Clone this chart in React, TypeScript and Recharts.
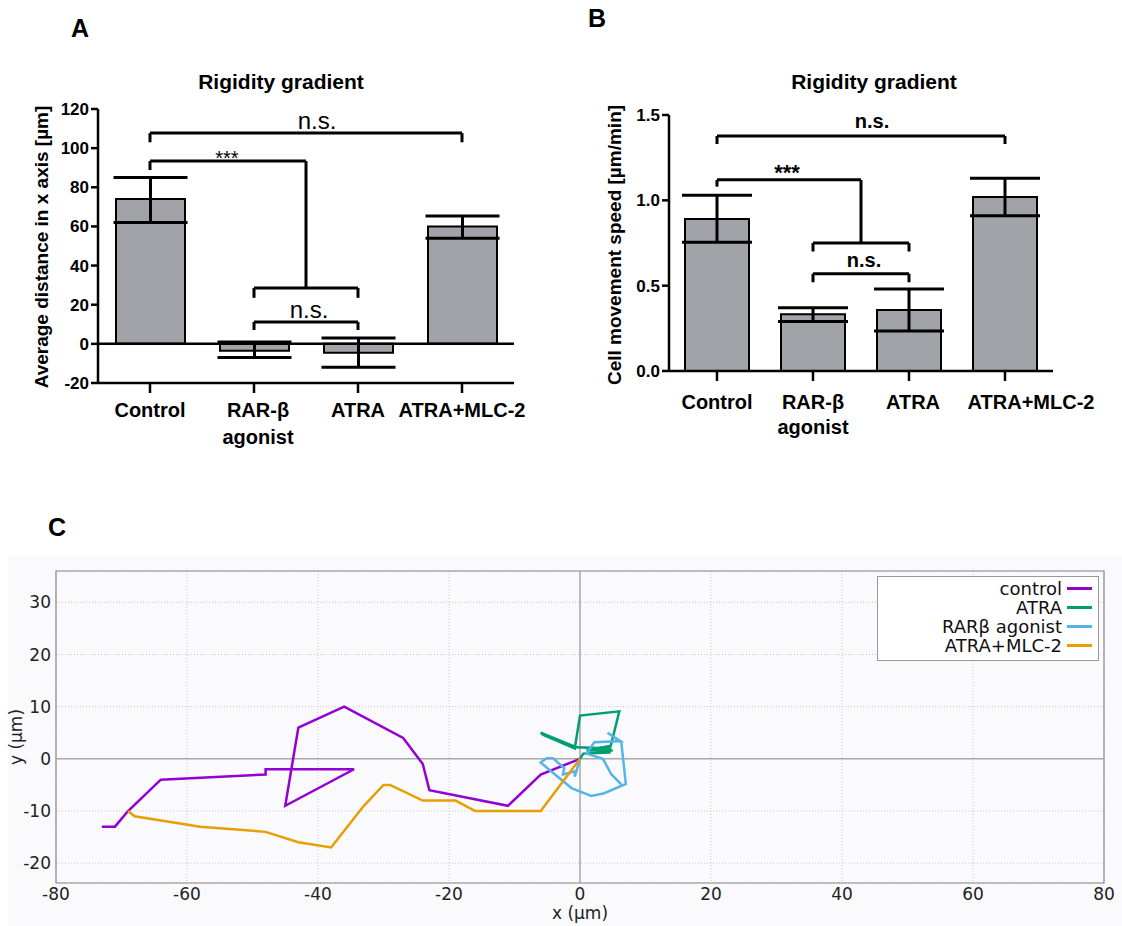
import React from 'react';
import {
  BarChart, Bar, XAxis, YAxis, ErrorBar, ReferenceLine, ReferenceDot,
  LineChart, Line, CartesianGrid, ReferenceArea, Legend,
} from 'recharts';

// ---------- data ----------
const categories = ['Control', 'RAR-β\nagonist', 'ATRA', 'ATRA+MLC-2'];
const categoryIndex = [0, 1, 2, 3];

const distanceMean = [74, -3.5, -4.5, 60];
const distanceLow = [62, -7, -12, 54];
const distanceHigh = [85, 1, 3, 65.3];
const distanceTicks = [-20, 0, 20, 40, 60, 80, 100, 120];

const speedMean = [0.89, 0.333, 0.357, 1.02];
const speedLow = [0.755, 0.29, 0.235, 0.91];
const speedHigh = [1.03, 0.37, 0.48, 1.13];
const speedTicks = [0, 0.5, 1.0, 1.5];

// brackets: [x1, x2, y, leftEnd, rightEnd]
const bracketsA = [
  [0, 3, 107.7, 103, 103],
  [0, 1.5, 93.4, 88.8, 28.6],
  [1, 2, 28.6, 23.5, 23.5],
  [1, 2, 11.2, 7.1, 7.1],
];
// labels: [x, y, text, fontSize, weight]
const labelsA: [number, number, string, number, string][] = [
  [1.606, 114.1, 'n.s.', 24, 'normal'],
  [0.74, 95, '***', 20, 'normal'],
  [1.53, 17.5, 'n.s.', 24, 'normal'],
];
const bracketsB = [
  [0, 3, 1.377, 1.33, 1.33],
  [0, 1.5, 1.12, 1.08, 0.75],
  [1, 2, 0.75, 0.70, 0.70],
  [1, 2, 0.57, 0.52, 0.52],
];
const labelsB: [number, number, string, number, string][] = [
  [1.615, 1.4646, 'n.s.', 20, 'bold'],
  [0.729, 1.163, '***', 22, 'bold'],
  [1.531, 0.65, 'n.s.', 20, 'bold'],
];

// trajectories (x, y) in µm
const controlTrack: [number, number][] = [
  [0, 0], [-6, -3], [-11, -9], [-23, -6], [-24, -1], [-27, 4], [-36, 10], [-43, 6],
  [-45, -9], [-34.5, -2], [-48, -2], [-48, -3], [-64, -4], [-69, -10], [-71, -13], [-73, -13],
];
const atraTrack: [number, number][] = [
  [0, 0], [0.5, 1], [4.5, 1.2], [4.6, 2], [-0.5, 2.2], [-6, 5], [-5.6, 4.6], [-0.8, 2],
  [0, 8.3], [6, 9.1], [4.7, 2.5], [1, 1.6], [5, 1.6],
];
const rarTrack: [number, number][] = [
  [0, 0], [-0.8, -3.4], [-0.8, -2.4], [-2.6, -3.0], [-2.4, -1.8], [-4.1, 0.1], [-5.1, 0.1],
  [-6, -0.7], [-4, -2.8], [-1.3, -5.6], [1.7, -7.1], [3.7, -6.6], [7, -4.8], [6.3, 3.2],
  [4.2, 5], [6.2, 3.4], [2.2, 3.2], [1, 1], [3.5, 0], [4.8, -3], [6.3, -4.9],
];
const mlcTrack: [number, number][] = [
  [0, 0], [-6, -10], [-16, -10], [-19, -8], [-24, -8], [-29, -5], [-30, -5], [-33, -9],
  [-38, -17], [-43, -16], [-48, -14], [-58, -13], [-68, -11], [-69, -10],
];
const trackNames = ['control', 'ATRA', 'RARβ agonist', 'ATRA+MLC-2'];
const trackColors = ['#9400d3', '#009e73', '#56b4e9', '#e69f00'];
const xTicksC = [-80, -60, -40, -20, 0, 20, 40, 60, 80];
const yTicksC = [-20, -10, 0, 10, 20, 30];

// ---------- derived tables ----------
const tableA = categoryIndex.map((i) => ({
  idx: i,
  value: distanceMean[i],
  err: [distanceMean[i] - distanceLow[i], distanceHigh[i] - distanceMean[i]],
}));
const tableB = categoryIndex.map((i) => ({
  idx: i,
  value: speedMean[i],
  err: [speedMean[i] - speedLow[i], speedHigh[i] - speedMean[i]],
}));
const toPts = (t: [number, number][]) => t.map(([x, y]) => ({ x, y }));
const tracks = [controlTrack, atraTrack, rarTrack, mlcTrack].map(toPts);

const SANS = '"Liberation Sans", Arial, sans-serif';
const DJV = '"DejaVu Sans", sans-serif';

const makeCatTick = (dy1: number, dy2: number, fs: number, shifts: number[]) => (props: any) => {
  const { x, y, payload } = props;
  const lines = categories[payload.value].split('\n');
  const cx = x + (shifts[payload.value] || 0);
  return (
    <text x={cx} y={y} textAnchor="middle" fontSize={fs} fontWeight="bold" fill="#000" fontFamily={SANS}>
      {lines.map((l, i) => (
        <tspan key={i} x={cx} dy={i === 0 ? dy1 : dy2}>{l}</tspan>
      ))}
    </text>
  );
};

const renderBrackets = (list: number[][], prefix: string) =>
  list.flatMap(([x1, x2, y, l, r], k) => [
    <ReferenceLine key={`${prefix}h${k}`} segment={[{ x: x1, y }, { x: x2, y }]} stroke="#000" strokeWidth={3} />,
    <ReferenceLine key={`${prefix}l${k}`} segment={[{ x: x1, y: y }, { x: x1, y: l }]} stroke="#000" strokeWidth={3} />,
    <ReferenceLine key={`${prefix}r${k}`} segment={[{ x: x2, y: y }, { x: x2, y: r }]} stroke="#000" strokeWidth={3} />,
  ]);

const renderLabels = (list: [number, number, string, number, string][], prefix: string) =>
  list.map(([x, y, t, fs, w], k) => (
    <ReferenceDot
      key={`${prefix}t${k}`}
      x={x}
      y={y}
      r={0}
      fill="none"
      stroke="none"
      label={{ value: t, position: 'center', fontSize: fs, fontWeight: w, fill: '#000', fontFamily: SANS }}
    />
  ));

const abs = (left: number, top: number, extra: React.CSSProperties = {}): React.CSSProperties => ({
  position: 'absolute', left, top, transform: 'translate(-50%, -50%)', whiteSpace: 'nowrap', ...extra,
});

const LegendBox = () => (
  <div style={{ width: 220, height: 81, border: '1px solid #999', background: '#fff', fontFamily: DJV, fontSize: 18, color: '#111', paddingTop: 2, boxSizing: 'content-box' }}>
    {trackNames.map((n, i) => (
      <div key={n} style={{ display: 'flex', justifyContent: 'flex-end', alignItems: 'center', height: 19, lineHeight: '19px' }}>
        <span>{n}</span>
        <span style={{ display: 'inline-block', width: 25, height: 3, background: trackColors[i], marginLeft: 5, marginRight: 6 }} />
      </div>
    ))}
  </div>
);

export default function App() {
  return (
    <div style={{ position: 'relative', width: 1122, height: 926, background: '#fff', fontFamily: SANS, overflow: 'hidden' }}>
      <style>{'body{margin:0}'}</style>

      {/* Panel letters and titles */}
      <div style={abs(80, 28, { fontSize: 25, fontWeight: 'bold' })}>A</div>
      <div style={abs(597, 18, { fontSize: 25, fontWeight: 'bold' })}>B</div>
      <div style={abs(57, 527, { fontSize: 25, fontWeight: 'bold' })}>C</div>
      <div style={abs(281, 82, { fontSize: 21, fontWeight: 'bold' })}>Rigidity gradient</div>
      <div style={abs(874, 82, { fontSize: 21, fontWeight: 'bold' })}>Rigidity gradient</div>
      <div style={abs(42, 247, { fontSize: 19, fontWeight: 'bold', transform: 'translate(-50%, -50%) rotate(-90deg)' })}>
        Average distance in x axis [µm]
      </div>
      <div style={abs(615, 245, { fontSize: 19, fontWeight: 'bold', transform: 'translate(-50%, -50%) rotate(-90deg)' })}>
        Cell movement speed [µm/min]
      </div>

      {/* Panel A */}
      <div style={{ position: 'absolute', left: 0, top: 0 }}>
        <BarChart width={560} height={460} data={tableA} margin={{ top: 109, right: 46, bottom: 17, left: 38 }}>
          <XAxis
            type="number"
            dataKey="idx"
            domain={[-0.5, 3.5]}
            ticks={categoryIndex}
            height={60}
            axisLine={{ stroke: '#000', strokeWidth: 2.5 }}
            tickLine={{ stroke: '#000', strokeWidth: 2.5 }}
            tickSize={10}
            tick={makeCatTick(22, 27, 20, [0, 4, 0, 0])}
            interval={0}
          />
          <YAxis
            type="number"
            domain={[-20, 120]}
            ticks={distanceTicks}
            width={60}
            axisLine={{ stroke: '#000', strokeWidth: 2.5 }}
            tickLine={{ stroke: '#000', strokeWidth: 2.5 }}
            tickSize={7}
            tick={{ fontSize: 17, fontWeight: 'bold', fill: '#000', fontFamily: SANS }}
            interval={0}
          />
          <ReferenceLine y={0} stroke="#000" strokeWidth={2.5} />
          <Bar dataKey="value" fill="#a2a2a9" stroke="#000" strokeWidth={2} barSize={69} isAnimationActive={false}>
            <ErrorBar dataKey="err" width={37} stroke="#000" strokeWidth={3} direction="y" />
          </Bar>
          {renderBrackets(bracketsA, 'a')}
          {renderLabels(labelsA, 'a')}
        </BarChart>
      </div>

      {/* Panel B */}
      <div style={{ position: 'absolute', left: 560, top: 0 }}>
        <BarChart width={562} height={460} data={tableB} margin={{ top: 115, right: 69, bottom: 29, left: 49 }}>
          <XAxis
            type="number"
            dataKey="idx"
            domain={[-0.5, 3.5]}
            ticks={categoryIndex}
            height={60}
            axisLine={{ stroke: '#000', strokeWidth: 2.5 }}
            tickLine={{ stroke: '#000', strokeWidth: 2.5 }}
            tickSize={10}
            tick={makeCatTick(26, 25, 20, [0, 0, 4, 26])}
            interval={0}
          />
          <YAxis
            type="number"
            domain={[0, 1.5]}
            ticks={speedTicks}
            tickFormatter={(v: number) => v.toFixed(1)}
            width={60}
            axisLine={{ stroke: '#000', strokeWidth: 2.5 }}
            tickLine={{ stroke: '#000', strokeWidth: 2.5 }}
            tickSize={7}
            tick={{ fontSize: 17, fontWeight: 'bold', fill: '#000', fontFamily: SANS }}
            interval={0}
          />
          <Bar dataKey="value" fill="#a2a2a9" stroke="#000" strokeWidth={2} barSize={64} isAnimationActive={false}>
            <ErrorBar dataKey="err" width={35} stroke="#000" strokeWidth={3} direction="y" />
          </Bar>
          {renderBrackets(bracketsB, 'b')}
          {renderLabels(labelsB, 'b')}
        </BarChart>
      </div>

      {/* Panel C */}
      <div style={{ position: 'absolute', left: 8, top: 555, width: 1114, height: 371, background: '#fafafd' }} />
      <div style={abs(16, 737, { fontSize: 17, fontFamily: DJV, color: '#222', transform: 'translate(-50%, -50%) rotate(-90deg)' })}>y (µm)</div>
      <div style={abs(580, 913, { fontSize: 17, fontFamily: DJV, color: '#222' })}>x (µm)</div>
      <div style={{ position: 'absolute', left: 0, top: 540 }}>
        <LineChart width={1122} height={386} margin={{ top: 31, right: 18, bottom: 8, left: 6 }}>
          <CartesianGrid stroke="#c8c8c8" strokeDasharray="1 2" />
          <XAxis
            type="number"
            dataKey="x"
            domain={[-80, 80]}
            ticks={xTicksC}
            height={35}
            axisLine={false}
            tickLine={false}
            tickSize={0}
            tickMargin={5}
            tick={{ fontSize: 17, fill: '#222', fontFamily: DJV }}
            interval={0}
            allowDataOverflow
          />
          <YAxis
            type="number"
            dataKey="y"
            domain={[-23.8, 36]}
            ticks={yTicksC}
            width={50}
            axisLine={false}
            tickLine={false}
            tickSize={0}
            tickMargin={5}
            tick={{ fontSize: 17, fill: '#222', fontFamily: DJV }}
            interval={0}
            allowDataOverflow
          />
          <ReferenceLine x={0} stroke="#aaaaaa" strokeWidth={1.5} />
          <ReferenceLine y={0} stroke="#aaaaaa" strokeWidth={1.5} />
          <ReferenceArea x1={-80} x2={80} y1={-23.8} y2={36} fill="none" fillOpacity={0} stroke="#888" strokeWidth={1.2} />
          {tracks.map((pts, i) => (
            <Line
              key={trackNames[i]}
              name={trackNames[i]}
              data={pts}
              dataKey="y"
              type="linear"
              stroke={trackColors[i]}
              strokeWidth={2.5}
              dot={false}
              activeDot={false}
              isAnimationActive={false}
            />
          ))}
          <Legend
            layout="horizontal"
            verticalAlign="middle"
            align="center"
            wrapperStyle={{ left: 877, top: 36, width: 222, height: 83 }}
            content={() => <LegendBox />}
          />
        </LineChart>
      </div>
    </div>
  );
}
